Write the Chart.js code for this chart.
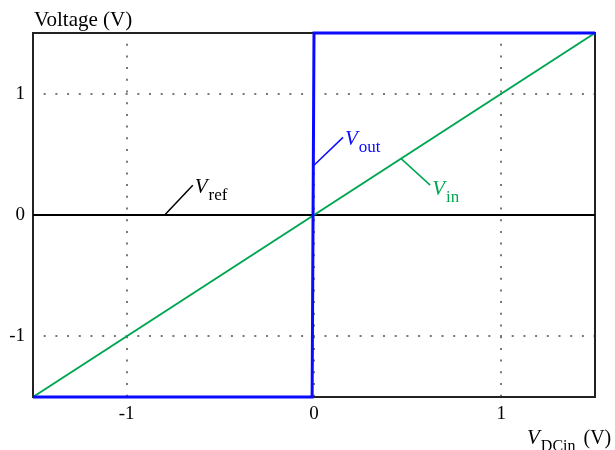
<!DOCTYPE html>
<html>
<head>
<meta charset="utf-8">
<script src="https://cdn.jsdelivr.net/npm/chart.js@4.4.1/dist/chart.umd.min.js"></script>
<style>
html,body{margin:0;padding:0;background:#fff;}
#wrap{width:615px;height:450px;position:relative;}
</style>
</head>
<body>
<div id="wrap"><canvas id="c" width="615" height="450"></canvas></div>
<script>
// ---- data ----
const xTicks = [-1, 0, 1];
const yTicks = [-1, 0, 1];
const vinX = [-1.5, 1.5];
const vinY = [-1.5, 1.5];
const vrefX = [-1.5, 1.5];
const vrefY = [0, 0];
const voutX = [-1.5, -0.01, 0, 1.5];
const voutY = [-1.5, -1.5, 1.5, 1.5];
const labels = ["Vout", "Vin", "Vref"];

const zip = (xs, ys) => xs.map((x, i) => ({x: x, y: ys[i]}));

const SERIF = "'Liberation Serif', 'DejaVu Serif', serif";
const BLUE = '#0a0aff';
const GREEN = '#00a651';

// annotation anchors in data units: leader from -> to, text offset
const notes = [
  {main: 'V', sub: 'out', color: BLUE, from: [0, 0.41], to: [0.155, 0.64], dx: 2, dy: 8},
  {main: 'V', sub: 'in', color: GREEN, from: [0.465, 0.465], to: [0.62, 0.246], dx: 2, dy: 10},
  {main: 'V', sub: 'ref', color: '#000', from: [-0.797, 0], to: [-0.647, 0.246], dx: 2, dy: 8}
];

function drawVSub(ctx, x, y, main, sub, color, mainSize, subSize, subDrop) {
  ctx.fillStyle = color;
  ctx.textBaseline = 'alphabetic';
  ctx.textAlign = 'left';
  ctx.font = 'italic ' + mainSize + 'px ' + SERIF;
  ctx.fillText(main, x, y);
  const w = ctx.measureText(main).width;
  ctx.font = subSize + 'px ' + SERIF;
  ctx.fillText(sub, x + w + 1, y + subDrop);
  return x + w + 1 + ctx.measureText(sub).width;
}

const framePlugin = {
  id: 'frame',
  beforeDatasetsDraw(chart) {
    const {ctx, chartArea: a} = chart;
    ctx.save();
    ctx.strokeStyle = '#222';
    ctx.lineWidth = 2;
    ctx.strokeRect(a.left, a.top, a.right - a.left, a.bottom - a.top);
    ctx.restore();
  },
  afterDraw(chart) {
    const ctx = chart.ctx;
    const xs = chart.scales.x, ys = chart.scales.y;
    const a = chart.chartArea;
    ctx.save();
    // y axis title
    ctx.fillStyle = '#000';
    ctx.font = '21px ' + SERIF;
    ctx.textAlign = 'left';
    ctx.textBaseline = 'alphabetic';
    ctx.fillText('Voltage (V)', a.left + 1, 26);
    // x axis title
    const end = drawVSub(ctx, 527, 444, 'V', 'DCin', '#000', 21, 16, 7);
    ctx.font = '20px ' + SERIF;
    ctx.fillStyle = '#000';
    ctx.fillText('(V)', end + 8, 444);
    // annotations
    notes.forEach(n => {
      const x1 = xs.getPixelForValue(n.from[0]), y1 = ys.getPixelForValue(n.from[1]);
      const x2 = xs.getPixelForValue(n.to[0]), y2 = ys.getPixelForValue(n.to[1]);
      ctx.strokeStyle = n.color;
      ctx.lineWidth = 1.5;
      ctx.beginPath();
      ctx.moveTo(x1, y1);
      ctx.lineTo(x2, y2);
      ctx.stroke();
      drawVSub(ctx, x2 + n.dx, y2 + n.dy, n.main, n.sub, n.color, 21, 17, 7);
    });
    ctx.restore();
  }
};

new Chart(document.getElementById('c'), {
  type: 'scatter',
  data: {
    datasets: [
      {label: labels[0], data: zip(voutX, voutY), showLine: true, borderColor: BLUE, borderWidth: 3, pointRadius: 0, clip: 6, tension: 0},
      {label: labels[1], data: zip(vinX, vinY), showLine: true, borderColor: GREEN, borderWidth: 2, pointRadius: 0, clip: 6, tension: 0},
      {label: labels[2], data: zip(vrefX, vrefY), showLine: true, borderColor: '#000', borderWidth: 2, pointRadius: 0, clip: 6, tension: 0}
    ]
  },
  options: {
    responsive: false,
    animation: false,
    layout: {padding: {top: 33, right: 20, left: 0, bottom: 0}},
    plugins: {legend: {display: false}, tooltip: {enabled: false}, title: {display: false}},
    scales: {
      x: {
        type: 'linear', min: -1.5, max: 1.5,
        afterBuildTicks: s => { s.ticks = xTicks.map(v => ({value: v})); },
        afterFit: s => { s.height = 53; },
        ticks: {font: {family: SERIF, size: 19}, color: '#000', padding: 6, maxRotation: 0,
                callback: v => String(v)},
        grid: {drawTicks: false, color: '#777', lineWidth: 2},
        border: {display: false, dash: [2, 9.7], dashOffset: 1}
      },
      y: {
        type: 'linear', min: -1.5, max: 1.5,
        afterBuildTicks: s => { s.ticks = yTicks.map(v => ({value: v})); },
        afterFit: s => { s.width = 33; },
        ticks: {font: {family: SERIF, size: 19}, color: '#000', padding: 8,
                callback: v => String(v)},
        grid: {drawTicks: false, color: '#777', lineWidth: 2},
        border: {display: false, dash: [2, 9.7], dashOffset: 1}
      }
    }
  },
  plugins: [framePlugin]
});
</script>
</body>
</html>
